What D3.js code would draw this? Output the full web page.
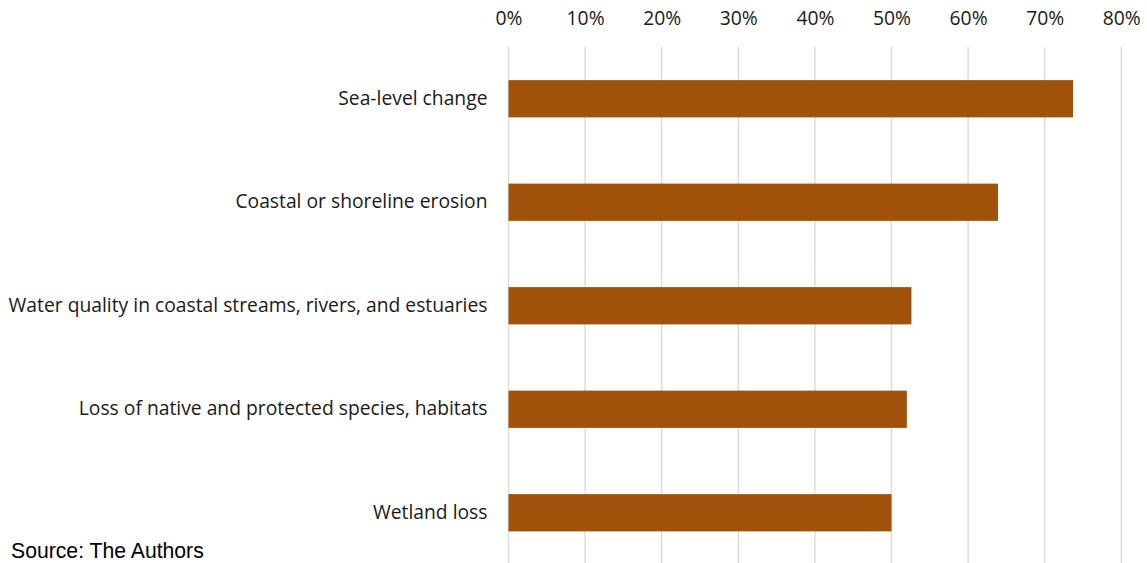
<!DOCTYPE html>
<head>
  <meta charset="utf-8">
  <script src="https://d3js.org/d3.v7.min.js"></script>
  <style>
    body { margin:0; background:#fff; }
  </style>
</head>
<body>
  <div id=figure></div>
  <script>
    // categories, top to bottom
    var categories = ["Sea-level change", "Coastal or shoreline erosion",
      "Water quality in coastal streams, rivers, and estuaries",
      "Loss of native and protected species, habitats", "Wetland loss"];
    var values = [0.737, 0.639, 0.526, 0.52, 0.50];
    var ticks = [0, 0.1, 0.2, 0.3, 0.4, 0.5, 0.6, 0.7, 0.8];

    var W = 1147, H = 563;
    var margin = {top: 47, left: 508.5, right: 25.7, bottom: -1.5};
    var labelFont = "'Open Sans', sans-serif";

    var svg = d3.select("#figure").append("svg")
      .attr("width", W).attr("height", H);

    var x = d3.scaleLinear().domain([0, 0.8]).range([margin.left, W - margin.right]);
    var y = d3.scaleBand().domain(categories)
      .range([margin.top, H - margin.bottom])
      .paddingInner(0.64).paddingOuter(0.32);

    // gridlines
    svg.append("g").selectAll("line").data(ticks).enter().append("line")
      .attr("x1", function(d){ return x(d); }).attr("x2", function(d){ return x(d); })
      .attr("y1", margin.top).attr("y2", H)
      .attr("stroke", "#d9d9d9").attr("stroke-width", 1.3);

    // top axis labels
    var xAxis = d3.axisTop(x).tickValues(ticks).tickFormat(d3.format(".0%")).tickSize(0);
    var gx = svg.append("g").attr("transform", "translate(0,27.5)").call(xAxis);
    gx.select(".domain").remove();
    gx.selectAll("text").attr("font-size", 19.3).attr("font-family", labelFont)
      .attr("fill", "#1a1a1a").attr("dy", 0);

    // bars
    svg.selectAll(".bar").data(values).enter().append("rect")
      .attr("class", "bar")
      .attr("x", x(0))
      .attr("y", function(d, i){ return y(categories[i]); })
      .attr("width", function(d){ return x(d) - x(0); })
      .attr("height", y.bandwidth())
      .attr("fill", "#a0520a");

    // category labels
    var yAxis = d3.axisLeft(y).tickSize(0).tickPadding(21);
    var gy = svg.append("g").attr("transform", "translate(" + margin.left + ",0)").call(yAxis);
    gy.select(".domain").remove();
    gy.selectAll("text").attr("font-size", 19.3).attr("font-family", labelFont)
      .attr("fill", "#1a1a1a");

    svg.append("text")
      .attr("x", 11).attr("y", 558)
      .attr("font-family", "'Liberation Sans', Arial, sans-serif")
      .attr("font-size", 21.2).attr("fill", "#000")
      .text("Source: The Authors");
  </script>
</body>
